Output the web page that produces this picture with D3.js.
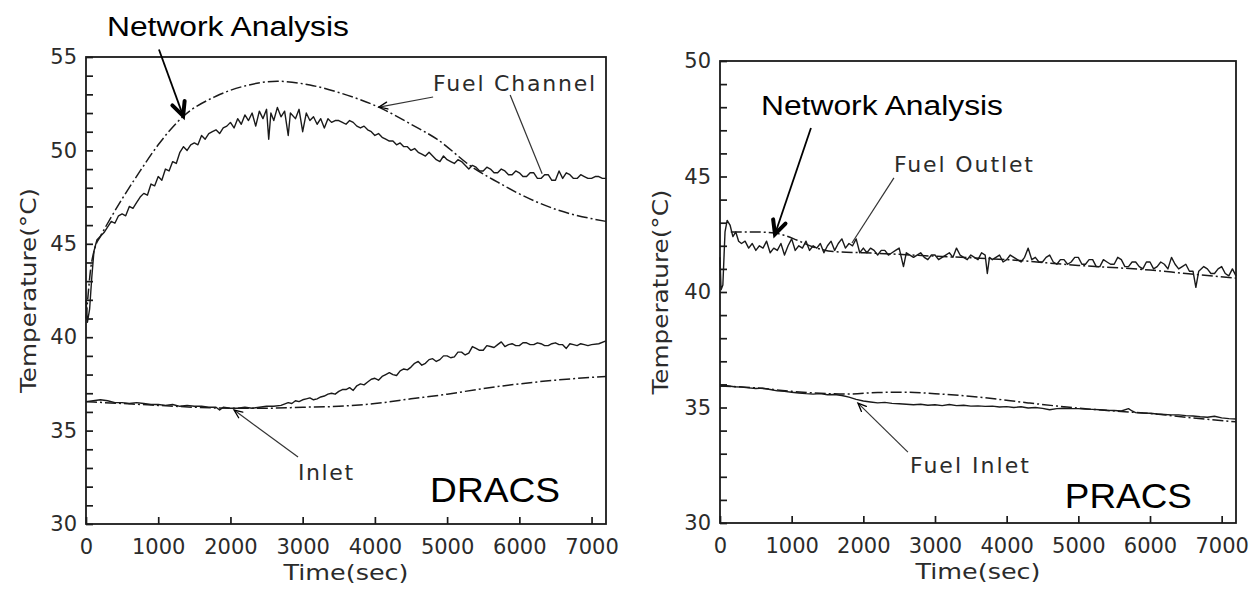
<!DOCTYPE html>
<html>
<head>
<meta charset="utf-8">
<script src="https://cdn.jsdelivr.net/npm/d3@7"></script>
<style>
  body { margin: 0; background: #fff; }
  svg { display: block; }
</style>
</head>
<body>
<div id="chart"></div>
<script>
// ---- data (time in sec, temperature in degC) ----
var xTicks = [0, 1000, 2000, 3000, 4000, 5000, 6000, 7000];

// DRACS panel
var dracsChannelMeas = [[0,42.0],[20,40.8],[50,41.5],[80,43.2],[110,44.6],[150,45.2],[200,45.4],[250,45.6],[300,45.9],[350,46.2],[400,46.1],[450,46.5],[500,46.6],[550,46.5],[600,47.0],[650,46.9],[700,47.2],[750,47.5],[800,47.7],[850,47.6],[900,48.2],[950,48.1],[1000,48.6],[1050,48.4],[1100,49.0],[1150,48.9],[1200,49.4],[1250,49.3],[1300,49.9],[1350,50.2],[1400,50.0],[1450,50.3],[1500,50.4],[1550,50.3],[1600,50.8],[1650,50.6],[1700,50.9],[1750,51.0],[1800,51.1],[1850,50.9],[1900,51.2],[1950,51.3],[2000,51.5],[2050,51.2],[2100,51.7],[2150,51.4],[2200,51.9],[2250,51.6],[2300,52.0],[2350,51.3],[2400,52.1],[2450,51.7],[2500,52.2],[2530,50.6],[2560,52.0],[2600,51.6],[2650,52.3],[2700,51.8],[2750,52.1],[2800,50.8],[2830,52.0],[2900,51.7],[2950,52.2],[3000,51.0],[3050,52.0],[3100,51.6],[3150,51.8],[3200,51.4],[3250,51.7],[3300,51.2],[3350,51.7],[3400,51.5],[3450,51.6],[3500,51.6],[3550,51.5],[3600,51.4],[3650,51.6],[3700,51.5],[3750,51.3],[3800,51.2],[3850,51.3],[3900,51.1],[3950,51.0],[4000,50.8],[4050,50.9],[4100,50.7],[4150,50.6],[4200,50.5],[4250,50.5],[4300,50.3],[4350,50.4],[4400,50.2],[4450,50.2],[4500,50.0],[4550,50.1],[4600,49.9],[4650,49.8],[4700,49.7],[4750,49.9],[4800,49.7],[4850,49.5],[4900,49.4],[4950,49.7],[5000,49.5],[5050,49.4],[5100,49.3],[5150,49.5],[5200,49.4],[5250,49.2],[5300,49.0],[5350,49.2],[5400,49.1],[5450,48.9],[5500,48.9],[5550,49.1],[5600,49.0],[5650,48.8],[5700,48.8],[5750,49.0],[5800,48.9],[5850,48.7],[5900,48.7],[5950,48.9],[6000,48.8],[6050,48.6],[6100,48.6],[6150,48.8],[6200,48.8],[6250,48.5],[6300,48.5],[6350,48.7],[6400,48.7],[6450,48.4],[6500,48.4],[6550,48.9],[6600,48.5],[6650,48.8],[6700,48.7],[6750,48.5],[6800,48.5],[6850,48.7],[6900,48.6],[6950,48.5],[7000,48.5],[7050,48.6],[7100,48.6],[7150,48.5],[7200,48.5]];
var dracsChannelNet = [[0,41.0],[30,42.3],[60,43.5],[125,44.8],[200,45.4],[300,46.1],[500,47.4],[750,48.9],[1000,50.3],[1340,51.8],[1800,52.9],[2200,53.45],[2650,53.7],[3100,53.5],[3500,53.1],[4060,52.3],[4500,51.4],[4860,50.6],[5350,49.1],[5700,48.3],[5960,47.75],[6500,46.85],[7200,46.2]];
var dracsInletMeas = [[0,36.55],[100,36.6],[200,36.65],[300,36.6],[400,36.5],[500,36.5],[600,36.45],[700,36.5],[800,36.45],[900,36.4],[1000,36.4],[1100,36.35],[1200,36.4],[1300,36.3],[1400,36.35],[1500,36.3],[1600,36.3],[1700,36.25],[1800,36.25],[1850,36.1],[1900,36.25],[2000,36.2],[2100,36.2],[2200,36.25],[2300,36.2],[2400,36.25],[2500,36.3],[2600,36.3],[2700,36.35],[2800,36.5],[2850,36.45],[2900,36.6],[2950,36.55],[3000,36.65],[3050,36.7],[3100,36.75],[3150,36.65],[3200,36.7],[3250,36.8],[3300,36.85],[3350,36.95],[3400,37.0],[3450,36.95],[3500,37.1],[3550,37.2],[3600,37.2],[3650,37.3],[3700,37.15],[3750,37.4],[3800,37.5],[3850,37.45],[3900,37.6],[3950,37.75],[4000,37.8],[4050,37.7],[4100,37.9],[4150,38.0],[4200,38.1],[4250,38.0],[4300,37.95],[4350,38.2],[4400,38.3],[4450,38.25],[4500,38.4],[4550,38.6],[4600,38.7],[4650,38.5],[4700,38.6],[4750,38.8],[4800,38.85],[4850,38.7],[4900,38.8],[4950,39.0],[5000,39.0],[5050,38.9],[5100,38.95],[5150,39.2],[5200,39.2],[5250,39.05],[5300,39.15],[5350,39.5],[5400,39.4],[5450,39.3],[5500,39.3],[5550,39.55],[5600,39.5],[5650,39.45],[5700,39.6],[5750,39.75],[5800,39.5],[5850,39.6],[5900,39.65],[5950,39.55],[6000,39.55],[6050,39.7],[6100,39.7],[6150,39.6],[6200,39.6],[6250,39.7],[6300,39.65],[6350,39.55],[6400,39.55],[6450,39.65],[6500,39.7],[6550,39.6],[6600,39.6],[6650,39.4],[6700,39.65],[6750,39.6],[6800,39.55],[6850,39.65],[6900,39.6],[6950,39.55],[7000,39.6],[7100,39.65],[7200,39.8]];
var dracsInletNet = [[0,36.55],[500,36.45],[1000,36.35],[1500,36.25],[2000,36.2],[2500,36.2],[3000,36.25],[3500,36.3],[4000,36.45],[4500,36.7],[5000,36.95],[5500,37.25],[6000,37.5],[6500,37.7],[7000,37.85],[7200,37.9]];

// PRACS panel
var pracsOutletMeas = [[0,41.5],[15,40.1],[40,40.3],[70,42.6],[100,43.1],[140,42.9],[180,42.4],[220,42.6],[260,42.2],[300,42.1],[350,42.2],[400,41.9],[450,42.1],[500,41.8],[550,42.0],[600,41.9],[650,42.2],[700,41.7],[750,41.9],[800,41.8],[850,42.1],[900,41.6],[950,42.0],[1000,42.3],[1050,41.8],[1100,42.0],[1150,41.9],[1200,42.2],[1250,41.8],[1300,42.0],[1350,41.9],[1400,42.1],[1450,41.7],[1500,42.0],[1550,42.2],[1600,41.8],[1650,42.1],[1700,42.3],[1750,41.9],[1800,42.1],[1850,42.0],[1900,42.3],[1950,41.7],[2000,41.9],[2050,41.7],[2100,41.9],[2150,41.8],[2200,41.6],[2250,41.8],[2300,41.8],[2350,41.6],[2400,41.7],[2450,41.8],[2500,41.9],[2560,41.1],[2600,41.7],[2650,41.6],[2700,41.5],[2750,41.6],[2800,41.7],[2850,41.5],[2900,41.4],[2950,41.6],[3000,41.6],[3050,41.4],[3100,41.5],[3150,41.6],[3200,41.7],[3250,41.5],[3300,41.9],[3350,41.6],[3400,41.5],[3450,41.4],[3500,41.6],[3550,41.5],[3600,41.4],[3650,41.7],[3700,41.6],[3730,40.8],[3760,41.5],[3800,41.4],[3850,41.5],[3900,41.6],[3950,41.3],[4000,41.4],[4050,41.6],[4100,41.5],[4150,41.4],[4200,41.3],[4250,41.5],[4300,41.9],[4350,41.4],[4400,41.5],[4450,41.3],[4500,41.3],[4550,41.5],[4600,41.6],[4650,41.3],[4700,41.2],[4750,41.4],[4800,41.4],[4850,41.2],[4900,41.3],[4950,41.5],[5000,41.5],[5050,41.2],[5100,41.2],[5150,41.4],[5200,41.4],[5250,41.1],[5300,41.1],[5350,41.4],[5400,41.3],[5450,41.2],[5500,41.2],[5550,41.5],[5600,41.4],[5650,41.1],[5700,41.1],[5750,41.3],[5800,41.3],[5850,41.1],[5900,41.0],[5950,41.3],[6000,41.3],[6050,41.0],[6100,41.1],[6150,41.3],[6200,41.2],[6250,41.0],[6300,41.5],[6350,41.2],[6400,41.0],[6450,41.1],[6500,41.2],[6550,40.9],[6600,40.9],[6640,40.2],[6680,40.9],[6750,41.1],[6800,41.0],[6850,40.8],[6900,40.8],[6950,41.0],[7000,41.1],[7050,40.8],[7100,40.7],[7150,41.0],[7200,40.7]];
var pracsOutletNet = [[150,42.6],[300,42.6],[500,42.6],[770,42.55],[900,42.45],[1070,42.25],[1300,41.95],[1580,41.75],[2000,41.7],[3000,41.55],[4000,41.4],[5000,41.15],[6000,40.95],[6500,40.8],[7200,40.6]];
var pracsInletMeas = [[0,35.93],[100,35.94],[200,35.9],[300,35.88],[400,35.85],[500,35.82],[600,35.84],[700,35.78],[800,35.72],[900,35.7],[1000,35.66],[1100,35.63],[1200,35.6],[1300,35.58],[1400,35.6],[1500,35.55],[1600,35.56],[1700,35.52],[1800,35.45],[1900,35.35],[2000,35.28],[2100,35.24],[2200,35.2],[2300,35.22],[2400,35.18],[2500,35.16],[2600,35.14],[2700,35.12],[2800,35.14],[2900,35.1],[3000,35.12],[3100,35.08],[3200,35.13],[3300,35.08],[3400,35.1],[3500,35.06],[3600,35.07],[3700,35.05],[3800,35.06],[3900,35.02],[4000,35.04],[4100,35.0],[4200,35.03],[4300,34.98],[4400,35.0],[4500,34.96],[4600,34.9],[4700,34.95],[4800,34.97],[4900,34.95],[5000,34.95],[5100,34.93],[5200,34.92],[5300,34.9],[5400,34.88],[5500,34.87],[5600,34.85],[5700,34.95],[5750,34.85],[5800,34.78],[5900,34.76],[6000,34.75],[6100,34.72],[6200,34.7],[6300,34.68],[6400,34.68],[6500,34.65],[6600,34.63],[6700,34.6],[6800,34.58],[6900,34.62],[7000,34.55],[7100,34.52],[7200,34.5]];
var pracsInletNet = [[0,35.93],[500,35.85],[1000,35.7],[1500,35.6],[1800,35.58],[2200,35.65],[2600,35.66],[3000,35.6],[3700,35.42],[4300,35.2],[4840,35.02],[5500,34.85],[6000,34.74],[6600,34.55],[7200,34.38]];

// ---- page ----
var W = 1253, H = 592;
var plotFont = "DejaVu Sans, sans-serif";
var ink = "#1a1a1a";

var svg = d3.select("#chart").append("svg")
  .attr("width", W)
  .attr("height", H);
svg.append("rect").attr("width", W).attr("height", H).attr("fill", "#fff");

function arrowHead(g, x1, y1, x2, y2, len, spread, width) {
  var a = Math.atan2(y2 - y1, x2 - x1);
  var p1 = [x2 - len * Math.cos(a - spread), y2 - len * Math.sin(a - spread)];
  var p2 = [x2 - len * Math.cos(a + spread), y2 - len * Math.sin(a + spread)];
  g.append("path")
    .attr("d", "M" + p1 + "L" + x2 + "," + y2 + "L" + p2)
    .attr("fill", "none")
    .attr("stroke", "#000")
    .attr("stroke-width", width)
    .attr("stroke-linejoin", "miter")
    .attr("stroke-linecap", "round");
}

function drawPanel(p) {
  var g = svg.append("g");

  var x = d3.scaleLinear().domain([0, 7200]).range([p.left, p.right]);
  var y = d3.scaleLinear().domain([30, p.yMax]).range([p.bottom, p.top]);

  // frame
  g.append("rect")
    .attr("x", p.left).attr("y", p.top)
    .attr("width", p.right - p.left).attr("height", p.bottom - p.top)
    .attr("fill", "none").attr("stroke", ink).attr("stroke-width", 1.8);

  // x axis, ticks point inside
  var xa = g.append("g")
    .attr("transform", "translate(0," + p.bottom + ")")
    .call(d3.axisBottom(x).tickValues(xTicks).tickSize(-7).tickSizeOuter(0).tickPadding(15)
      .tickFormat(d3.format("d")));
  xa.select(".domain").remove();

  // y axis, minor ticks every degree
  var yTicks = d3.range(30, p.yMax + 1, 1);
  var ya = g.append("g")
    .attr("transform", "translate(" + p.left + ",0)")
    .call(d3.axisLeft(y).tickValues(yTicks).tickSize(-7).tickSizeOuter(0).tickPadding(9)
      .tickFormat(function(d) { return d % 5 === 0 ? d : ""; }));
  ya.select(".domain").remove();

  g.selectAll(".tick line").attr("stroke", ink).attr("stroke-width", 1.7);
  g.selectAll(".tick text")
    .style("font-family", plotFont)
    .style("font-size", "21px")
    .attr("fill", "#2b2b2b");

  // axis titles
  g.append("text")
    .attr("x", (p.left + p.right) / 2)
    .attr("y", p.bottom + 56)
    .attr("text-anchor", "middle")
    .attr("textLength", 125)
    .attr("lengthAdjust", "spacingAndGlyphs")
    .style("font-family", plotFont).style("font-size", "21px")
    .attr("fill", "#2b2b2b")
    .text("Time(sec)");

  g.append("text")
    .attr("transform", "translate(" + p.yTitleX + "," + ((p.top + p.bottom) / 2) + ") rotate(-90)")
    .attr("text-anchor", "middle")
    .attr("textLength", 205)
    .attr("lengthAdjust", "spacingAndGlyphs")
    .style("font-family", plotFont).style("font-size", "21px")
    .attr("fill", "#2b2b2b")
    .text("Temperature(\u00B0C)");

  // curves
  var lineSharp = d3.line()
    .x(function(d) { return x(d[0]); })
    .y(function(d) { return y(d[1]); });
  var lineSmooth = d3.line()
    .curve(d3.curveMonotoneX)
    .x(function(d) { return x(d[0]); })
    .y(function(d) { return y(d[1]); });

  p.series.forEach(function(s) {
    g.append("path")
      .datum(s.data)
      .attr("fill", "none")
      .attr("stroke", ink)
      .attr("stroke-width", s.net ? 1.5 : 1.4)
      .attr("stroke-dasharray", s.net ? "11,3,2,3" : null)
      .attr("stroke-linejoin", "round")
      .attr("d", s.net ? lineSmooth : lineSharp);
  });

  // annotations (data units)
  p.notes.forEach(function(n) {
    if (n.type === "plot") {
      g.append("text")
        .attr("x", x(n.t)).attr("y", y(n.v))
        .attr("textLength", n.w)
        .attr("lengthAdjust", "spacing")
        .style("font-family", plotFont).style("font-size", "22px")
        .attr("fill", "#2b2b2b")
        .text(n.text);
    } else if (n.type === "big") {
      g.append("text")
        .attr("x", x(n.t)).attr("y", y(n.v))
        .attr("textLength", n.w)
        .attr("lengthAdjust", "spacingAndGlyphs")
        .style("font-family", "Liberation Sans, Arial, sans-serif")
        .style("font-size", n.size + "px")
        .attr("fill", "#000")
        .text(n.text);
    } else {
      var x1 = x(n.from[0]), y1 = y(n.from[1]), x2 = x(n.to[0]), y2 = y(n.to[1]);
      g.append("line")
        .attr("x1", x1).attr("y1", y1).attr("x2", x2).attr("y2", y2)
        .attr("stroke", n.type === "bigArrow" ? "#000" : "#333")
        .attr("stroke-width", n.type === "bigArrow" ? 1.8 : 1.2);
      if (n.type === "bigArrow") arrowHead(g, x1, y1, x2, y2, 15, 0.45, 4);
      if (n.type === "arrow") arrowHead(g, x1, y1, x2, y2, 9, 0.4, 1.3);
    }
  });
}

drawPanel({
  left: 86, right: 606, top: 57, bottom: 524, yMax: 55, yTitleX: 36,
  series: [
    { data: dracsChannelNet, net: true },
    { data: dracsInletNet, net: true },
    { data: dracsChannelMeas, net: false },
    { data: dracsInletMeas, net: false }
  ],
  notes: [
    { type: "big", text: "Network Analysis", t: 290, v: 56.1, w: 242, size: 27 },
    { type: "bigArrow", from: [1010, 55.4], to: [1345, 51.85] },
    { type: "plot", text: "Fuel Channel", t: 4806, v: 53.18, w: 162 },
    { type: "arrow", from: [4806, 52.86], to: [4058, 52.32] },
    { type: "line", from: [5873, 52.97], to: [6316, 48.75] },
    { type: "plot", text: "Inlet", t: 2936, v: 32.36, w: 55 },
    { type: "arrow", from: [2936, 33.59], to: [2050, 36.1] },
    { type: "big", text: "DRACS", t: 4765, v: 31.18, w: 130, size: 35 }
  ]
});

drawPanel({
  left: 720, right: 1236, top: 61, bottom: 523, yMax: 50, yTitleX: 668,
  series: [
    { data: pracsOutletNet, net: true },
    { data: pracsInletNet, net: true },
    { data: pracsOutletMeas, net: false },
    { data: pracsInletMeas, net: false }
  ],
  notes: [
    { type: "big", text: "Network Analysis", t: 572, v: 47.66, w: 242, size: 27 },
    { type: "bigArrow", from: [1269, 47.1], to: [767, 42.5] },
    { type: "plot", text: "Fuel Outlet", t: 2427, v: 45.19, w: 139 },
    { type: "line", from: [2427, 44.94], to: [1841, 42.12] },
    { type: "plot", text: "Fuel Inlet", t: 2650, v: 32.16, w: 119 },
    { type: "arrow", from: [2622, 33.07], to: [1925, 35.19] },
    { type: "big", text: "PRACS", t: 4812, v: 30.65, w: 127, size: 35 }
  ]
});
</script>
</body>
</html>
